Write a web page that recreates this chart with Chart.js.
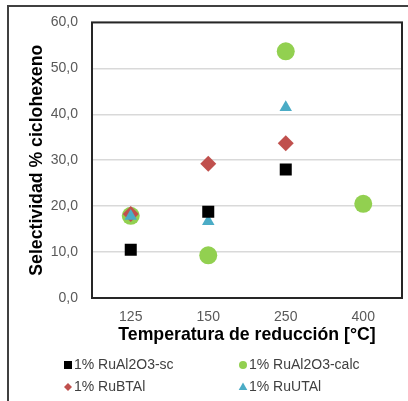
<!DOCTYPE html>
<html>
<head>
<meta charset="utf-8">
<script src="https://cdn.jsdelivr.net/npm/chart.js@4/dist/chart.umd.min.js"></script>
<style>
  html, body { margin: 0; padding: 0; background: #fff; }
  canvas { display: block; }
</style>
</head>
<body>
<canvas id="selectividad" width="408" height="401"></canvas>
<script>
// temperaturas de reduccion (eje x) y selectividad % ciclohexeno por catalizador
const temps = ['125', '150', '250', '400'];
const ruAl2O3sc = [10.5, 18.8, 28.0, null];
const ruAl2O3calc = [17.9, 9.3, 53.7, 20.5];
const ruBTAl = [18.3, 29.2, 33.7, null];
const ruUTAl = [17.8, 16.7, 41.5, null];
const yTicks = [0, 10, 20, 30, 40, 50, 60];

Chart.defaults.font.family = "'Liberation Sans', Arial, sans-serif";

// draws the box around the plot area (axes border doesn't close the box)
const plotBox = {
  id: 'plotBox',
  beforeDatasetsDraw(chart) {
    const {ctx, chartArea: a} = chart;
    ctx.save();
    ctx.strokeStyle = '#262626';
    ctx.lineWidth = 2;
    ctx.strokeRect(a.left, a.top, a.right - a.left, a.bottom - a.top);
    ctx.restore();
  },
  afterDraw(chart) {
    const ctx = chart.ctx;
    ctx.save();
    // outer frame
    ctx.strokeStyle = '#404040';
    ctx.lineWidth = 2;
    ctx.strokeRect(8, 6, 500, 500);

    // legend, 2 columns like excel
    const cols = [68, 243];
    const rows = [365, 387];
    ctx.font = "14px 'Liberation Sans', Arial, sans-serif";
    ctx.textBaseline = 'middle';
    ctx.textAlign = 'left';
    chart.data.datasets.forEach((ds, i) => {
      const x = cols[i % 2], y = rows[Math.floor(i / 2)];
      ctx.fillStyle = ds.backgroundColor;
      ctx.beginPath();
      if (ds.pointStyle == 'rect') {
        ctx.rect(x - 4, y - 4, 8, 8);
      } else if (ds.pointStyle == 'circle') {
        ctx.arc(x, y, 4, 0, Math.PI * 2);
      } else if (ds.pointStyle == 'rectRot') {
        ctx.moveTo(x - 4, y); ctx.lineTo(x, y - 4); ctx.lineTo(x + 4, y); ctx.lineTo(x, y + 4);
      } else {
        ctx.moveTo(x, y - 4.5); ctx.lineTo(x + 4.3, y + 3); ctx.lineTo(x - 4.3, y + 3);
      }
      ctx.closePath();
      ctx.fill();
      ctx.fillStyle = '#404040';
      ctx.fillText(ds.label, x + 6, y);
    });
    ctx.restore();
  }
};

const config = {
  type: 'line',
  data: {
    labels: temps,
    datasets: [
      { label: '1% RuAl2O3-sc', data: ruAl2O3sc, pointStyle: 'rect', pointRadius: 8.5,
        backgroundColor: '#000000', order: 0 },
      { label: '1% RuAl2O3-calc', data: ruAl2O3calc, pointStyle: 'circle', pointRadius: 9,
        backgroundColor: '#92d050', order: 3 },
      { label: '1% RuBTAl', data: ruBTAl, pointStyle: 'rectRot', pointRadius: 8,
        backgroundColor: '#c0504d', order: 2 },
      { label: '1% RuUTAl', data: ruUTAl, pointStyle: 'triangle', pointRadius: 7.2,
        backgroundColor: '#4bacc6', order: 1 }
    ].map(d => Object.assign(d, {
      showLine: false,
      borderWidth: 0,
      pointBorderWidth: 0,
      pointBackgroundColor: d.backgroundColor,
      pointHoverRadius: d.pointRadius
    }))
  },
  options: {
    responsive: false,
    animation: false,
    events: [],
    layout: { autoPadding: false, padding: { top: 21, right: 6, left: 0, bottom: 0 } },
    plugins: {
      legend: { display: false },
      tooltip: { enabled: false }
    },
    scales: {
      x: {
        offset: true,
        grid: { display: false, drawTicks: false, tickLength: 0 },
        border: { display: false },
        ticks: { color: '#595959', font: { size: 14 }, padding: 11 },
        title: {
          display: true,
          text: 'Temperatura de reducción [°C]',
          color: '#000',
          font: { size: 17.7, weight: 'bold' },
          padding: { top: 0, bottom: 55 }
        },
        afterFit(scale) { scale.height = 103; }
      },
      y: {
        min: 0,
        max: 60,
        afterBuildTicks(scale) { scale.ticks = yTicks.map(v => ({ value: v })); },
        grid: { color: '#d9d9d9', lineWidth: 1.5, drawTicks: false },
        border: { display: false },
        ticks: {
          color: '#595959',
          font: { size: 14 },
          padding: 14,
          callback: v => v.toFixed(1).replace('.', ',')
        },
        title: {
          display: true,
          text: 'Selectividad % ciclohexeno',
          color: '#000',
          font: { size: 17.7, weight: 'bold' },
          padding: { top: 26, bottom: 0 }
        },
        afterFit(scale) { scale.width = 92; }
      }
    }
  },
  plugins: [plotBox]
};

const selChart = new Chart(document.getElementById('selectividad'), config);
</script>
</body>
</html>
